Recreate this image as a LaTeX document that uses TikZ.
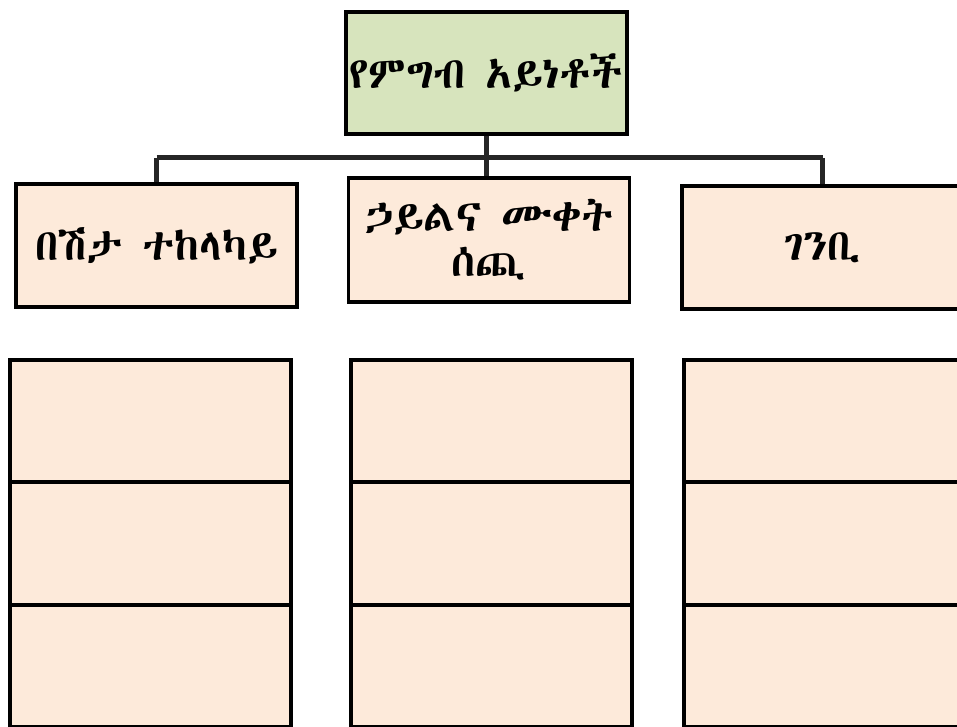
\documentclass[tikz,border=0pt]{standalone}
\usepackage{fontspec}
\usetikzlibrary{positioning}
\IfFontExistsTF{Abyssinica SIL}{\newfontfamily\ethfont{Abyssinica SIL}}{%
  \IfFontExistsTF{FreeSerif}{\newfontfamily\ethfont{FreeSerif}}{%
    \newfontfamily\ethfont{DejaVu Sans}}}
\definecolor{topgreen}{HTML}{D7E4BD}
\definecolor{boxpeach}{HTML}{FDEADA}
\definecolor{busgray}{HTML}{262626}
\tikzstyle{head}=[rectangle,draw,line width=3.5pt,fill=topgreen,align=center,minimum width=281pt,minimum height=122pt,inner sep=0pt,font=\ethfont\fontsize{44}{46}\selectfont]
\tikzstyle{kind}=[rectangle,draw,line width=3.5pt,fill=boxpeach,align=center,minimum width=281pt,minimum height=123pt,inner sep=0pt,font=\ethfont\fontsize{44}{45}\selectfont]
\tikzstyle{blank}=[rectangle,draw,line width=4pt,fill=boxpeach,minimum width=281pt,minimum height=122.5pt,inner sep=0pt,outer sep=0pt]
\tikzstyle{bus}=[line width=5pt,draw=busgray]

\begin{document}
\begin{tikzpicture}[x=1pt,y=-1pt]
\useasboundingbox (0,0) rectangle (957,727);
\clip (0,0) rectangle (957,727);
\coordinate (busL) at (156.5,158);
\coordinate (busR) at (822.5,158);
\coordinate (busM) at (486.5,158);
\draw [bus] (busL) -- (busR);
\node (types) [head] at (486.5,73) {የምግብ አይነቶች};
\node (protect) [kind] at (156.5,245.5) {በሽታ ተከላካይ};
\node (energy) [kind, minimum height=124pt] at (489,240) {ኃይልና ሙቀት\\ሰጪ};
\node (build) [kind] at (822.5,247.5) {ገንቢ};
\draw [bus] (types.south) -- (busM) -- (busM |- energy.north);
\draw [bus] (busL) -- (protect.north);
\draw [bus] (busR) -- (build.north);
% empty rows under each kind
\node (protectA) [blank] at (150.5,421) {};
\node (protectB) [blank, below=0pt of protectA] {};
\node (protectC) [blank, below=0pt of protectB] {};
\node (energyA) [blank] at (491,421) {};
\node (energyB) [blank, below=0pt of energyA] {};
\node (energyC) [blank, below=0pt of energyB] {};
\node (buildA) [blank] at (824.5,421) {};
\node (buildB) [blank, below=0pt of buildA] {};
\node (buildC) [blank, below=0pt of buildB] {};
\end{tikzpicture}
\end{document}
